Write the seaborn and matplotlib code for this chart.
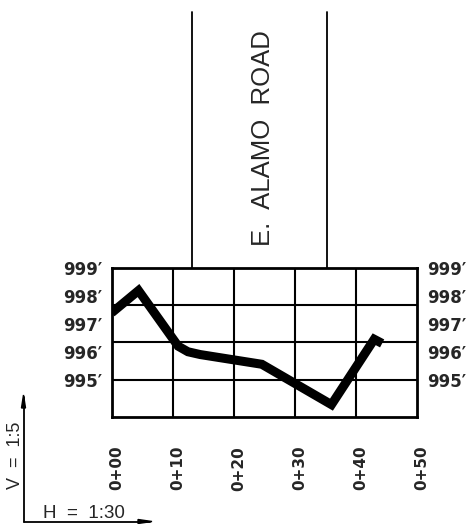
import matplotlib
matplotlib.use('Agg')
import matplotlib.pyplot as plt
import matplotlib.transforms as mtransforms
import seaborn as sns
import pandas as pd

# Ground profile along E. Alamo Road (station in ft, elevation in ft)
stations = [0, 4.4, 10.9, 12.5, 14.5, 24.6, 36.0, 43.0, 44.3]
elevations = [997.4, 998.2, 996.2, 996.0, 995.9, 995.55, 994.1, 996.45, 996.3]

station_ticks = [0, 10, 20, 30, 40, 50]
station_labels = ['0+00', '0+10', '0+20', '0+30', '0+40', '0+50']
elev_ticks = [995, 996, 997, 998, 999]
elev_labels = ["995′", "996′", "997′", "998′", "999′"]

road_edges = [13.1, 35.2]
road_name = 'E.  ALAMO  ROAD'

df = pd.DataFrame({'Station': stations, 'Elevation': elevations})

sns.set_style('white')
plt.rcParams['font.family'] = ['DejaVu Sans']

fig = plt.figure(figsize=(4.73, 5.24), dpi=100)
ax = fig.add_axes([0.236, 0.2048, 0.6455, 0.2832])

# grid box: rows are 4/3 ft tall
row = 4 / 3
ax.set_xlim(0, 50)
ax.set_ylim(999 - 4 * row, 999)
for x in station_ticks[1:-1]:
    ax.axvline(x, color='black', lw=1.5, zorder=1)
for k in range(1, 4):
    ax.axhline(999 - k * row, color='black', lw=1.5, zorder=1)
for s in ax.spines.values():
    s.set_color('black')
    s.set_linewidth(2)

sns.lineplot(data=df, x='Station', y='Elevation', sort=False, estimator=None,
             color='black', lw=6.5, ax=ax, zorder=3,
             solid_capstyle='butt', solid_joinstyle='miter')

ax.set_xlabel('')
ax.set_ylabel('')
ax.set_xticks(station_ticks)
ax.set_xticklabels(station_labels, rotation=90, fontweight='bold', fontsize=11)
ax.set_yticks(elev_ticks)
ax.set_yticklabels(elev_labels, fontweight='bold', fontsize=12)
ax.tick_params(axis='y', length=0, pad=7, labelright=True, right=False)
ax.tick_params(axis='x', length=0, pad=21)
shift = mtransforms.ScaledTranslation(5 / 100, 0, fig.dpi_scale_trans)
for lab in ax.get_xticklabels():
    lab.set_transform(lab.get_transform() + shift)
    lab.set_verticalalignment('top')

# road right-of-way lines above the profile
top = 999 + (268.3 - 12) / 27.8
for x in road_edges:
    ax.plot([x, x], [999, top], color='black', lw=1.3, clip_on=False)
ax.text(24.8, 999 + (268.3 - 138) / 27.8, road_name, rotation=90,
        ha='center', va='center', fontsize=18.5, family='Liberation Sans')

# scale indicator
fig.add_artist(plt.Line2D([23.5 / 473, 23.5 / 473], [2 / 524, 127 / 524],
                          color='black', lw=1.3))
fig.add_artist(plt.Line2D([23.5 / 473, 150 / 473], [2.5 / 524, 2.5 / 524],
                          color='black', lw=1.3))
fig.add_artist(plt.Polygon([[23.5 / 473, 129 / 524], [21.5 / 473, 116 / 524],
                            [25.5 / 473, 116 / 524]], color='black'))
fig.add_artist(plt.Polygon([[152 / 473, 2.5 / 524], [138 / 473, 0.5 / 524],
                            [138 / 473, 4.5 / 524]], color='black'))
fig.text(15 / 473, 69 / 524, 'V  =  1:5', rotation=90, ha='center', va='center',
         fontsize=13, family='Liberation Sans')
fig.text(84 / 473, 11 / 524, 'H  =  1:30', ha='center', va='center',
         fontsize=13.5, family='Liberation Sans')

fig.savefig('out.png', dpi=100, facecolor='white')
